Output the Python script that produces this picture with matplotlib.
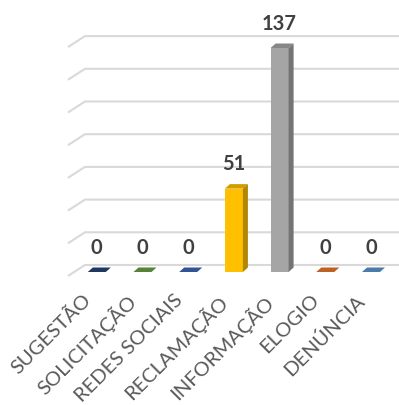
import matplotlib
matplotlib.use('Agg')
import matplotlib.pyplot as plt
from matplotlib.patches import Polygon
from matplotlib.lines import Line2D
import matplotlib.transforms as mtransforms
import numpy as np

categories = ['SUGESTÃO', 'SOLICITAÇÃO', 'REDES SOCIAIS', 'RECLAMAÇÃO',
              'INFORMAÇÃO', 'ELOGIO', 'DENÚNCIA']
values = [0, 0, 0, 51, 137, 0, 0]
base_colors = ['#264478', '#6AA043', '#3D67B5', '#FFC000', '#A5A5A5', '#E8772A', '#5A96CE']
grid_values = [0, 20, 40, 60, 80, 100, 120, 140]

W, H = 399, 405
fig = plt.figure(figsize=(W / 100, H / 100), dpi=100)
fig.patch.set_facecolor('white')
ax = fig.add_axes([73.95 / W, 133 / H, 319.9 / W, 245.25 / H])
ax.set_xlim(-0.5, len(categories) - 0.5)
ax.set_ylim(0, 150)
ax.set_autoscale_on(False)
for s in ax.spines.values():
    s.set_visible(False)
ax.set_yticks([])
ax.tick_params(axis='x', length=0, pad=14)
x = np.arange(len(categories))
ax.set_xticks(x)
ax.set_xticklabels(categories, rotation=45, ha='right', fontsize=14.5,
                   color='#595959', family=['Lato', 'DejaVu Sans'])
offset = mtransforms.ScaledTranslation(-2 / 72, 0, fig.dpi_scale_trans)
for lab in ax.get_xticklabels():
    lab.set_transform(lab.get_transform() + offset)

def shade(c, f):
    r, g, b = matplotlib.colors.to_rgb(c)
    return (r * f, g * f, b * f)

bw = 0.394
ax.bar(x, values, width=bw, color=base_colors, linewidth=0, zorder=3)

fig.canvas.draw()
T = ax.transData
ident = mtransforms.IdentityTransform()
dx, dy = 5.0, 4.5
back = 7.0

# gridlines on the back wall with their slanted side-wall part
x_ax0 = ax.transAxes.transform((0, 0))[0]
for gv in grid_values:
    yd = T.transform((0, gv))[1] + back
    line = Line2D([x_ax0 - 6, x_ax0 + 11, W + 5], [yd - 11, yd, yd],
                  transform=ident, color='#D9D9D9', linewidth=1.5,
                  solid_capstyle='butt', zorder=1, clip_on=False)
    ax.add_artist(line)

for xi, v, c in zip(x, values, base_colors):
    (x0, y0), (x1, y1) = T.transform([(xi - bw / 2, 0), (xi + bw / 2, v)])
    top = Polygon([(x0, y1), (x1, y1), (x1 + dx, y1 + dy), (x0 + dx, y1 + dy)],
                  closed=True, transform=ident, facecolor=shade(c, 0.82),
                  edgecolor='none', zorder=4, clip_on=False)
    ax.add_artist(top)
    if v > 0:
        side = Polygon([(x1, y0), (x1, y1), (x1 + dx, y1 + dy), (x1 + dx, y0 + dy)],
                       closed=True, transform=ident, facecolor=shade(c, 0.7),
                       edgecolor='none', zorder=4, clip_on=False)
        ax.add_artist(side)
    ax.annotate(str(v), xy=(xi, v), xytext=(0, 24.5 * 0.72),
                textcoords='offset points', ha='center', va='center',
                fontsize=14.5, fontweight='bold', color='#404040',
                family=['Lato', 'DejaVu Sans'], zorder=5)

fig.savefig('out.png', dpi=100, facecolor='white')
